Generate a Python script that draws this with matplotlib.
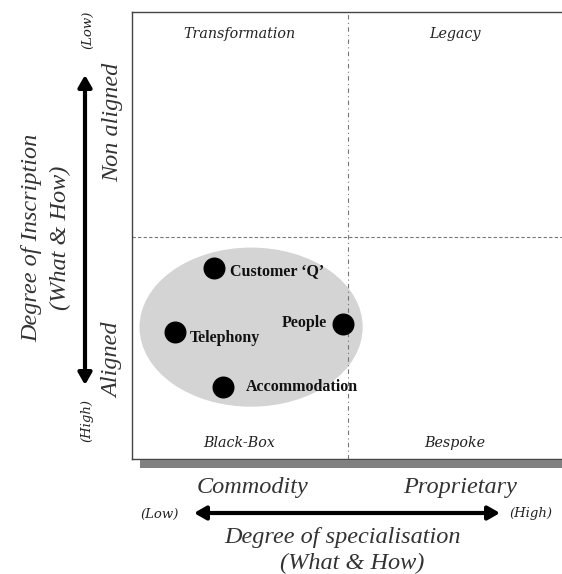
import numpy as np
import matplotlib
matplotlib.use('Agg')
import matplotlib.pyplot as plt
from matplotlib.patches import Ellipse, Rectangle, FancyArrowPatch

W, H = 562, 574

# data: position of each service on the grid (0..1 in both directions)
names = ["Customer \u2018Q\u2019", "Telephony", "People", "Accommodation"]
spec = [0.191, 0.100, 0.491, 0.212]      # degree of specialisation
inscr = [0.427, 0.284, 0.302, 0.161]     # degree of inscription (low = aligned)
label_offsets = [(16, -4), (15, -6), (-16, 1), (23, 0)]
label_align = ['left', 'left', 'right', 'left']

quadrants = ["Transformation", "Legacy", "Black-Box", "Bespoke"]
quad_pos = [(0.25, 0.95), (0.75, 0.95), (0.25, 0.035), (0.75, 0.035)]


def fx(x):
    return x / W


def fy(y):
    return 1 - y / H


fig = plt.figure(figsize=(W / 100, H / 100), dpi=100)

# gray bar under the box
fig.add_artist(Rectangle((fx(140), fy(468)), fx(562) - fx(140), fy(460) - fy(468),
                         transform=fig.transFigure, color='#808080', lw=0))

ax = fig.add_axes([fx(132), fy(459), fx(562) - fx(132), fy(12) - fy(459)])
ax.set_xlim(0, 1)
ax.set_ylim(0, 1)
ax.set_xticks([])
ax.set_yticks([])
ax.spines['right'].set_visible(False)
for s in ['left', 'top', 'bottom']:
    ax.spines[s].set_color('#444444')
    ax.spines[s].set_linewidth(1.0)

# dividers
ax.axvline(0.502, color='#777777', lw=0.8, ls=(0, (4, 3, 1, 3)))
ax.axhline(0.497, color='#777777', lw=0.8, ls=(0, (3, 2)))

# cluster ellipse
ax.add_patch(Ellipse((0.277, 0.295), 0.519, 0.356, facecolor='#d4d4d4', edgecolor='none'))

ax.scatter(spec, inscr, s=220, color='black', zorder=3)
for n, x, y, off, ha in zip(names, spec, inscr, label_offsets, label_align):
    ax.annotate(n, (x, y), xytext=off, textcoords='offset pixels', ha=ha, va='center',
                fontsize=11.5, fontweight='bold', family='Liberation Serif', color='#111111',
                zorder=4)

for q, (x, y) in zip(quadrants, quad_pos):
    ax.text(x, y, q, ha='center', va='center', fontsize=10.3, style='italic',
            family='DejaVu Serif', color='#222222')

# left axis texts
big = dict(family='Liberation Serif', style='italic', color='#333333')
fig.text(fx(32), fy(238), "Degree of Inscription", rotation=90, ha='center', va='center',
         fontsize=17.5, **big)
fig.text(fx(60), fy(238), "(What & How)", rotation=90, ha='center', va='center',
         fontsize=17.5, **big)
fig.text(fx(113), fy(122), "Non aligned", rotation=90, ha='center', va='center',
         fontsize=17.5, **big)
fig.text(fx(113), fy(360), "Aligned", rotation=90, ha='center', va='center',
         fontsize=17.5, **big)
small = dict(family='DejaVu Serif', style='italic', color='#222222', fontsize=9.5)
fig.text(fx(88), fy(30), "(Low)", rotation=90, ha='center', va='center', **small)
fig.text(fx(87), fy(420), "(High)", rotation=90, ha='center', va='center', **small)

fig.add_artist(FancyArrowPatch((fx(85), fy(385)), (fx(85), fy(75)), transform=fig.transFigure,
                               arrowstyle='<|-|>,head_length=7,head_width=4', lw=3,
                               color='black', shrinkA=0, shrinkB=0))

# bottom axis texts
fig.text(fx(253), fy(487), "Commodity", ha='center', va='center', fontsize=17.5, **big)
fig.text(fx(460), fy(487), "Proprietary", ha='center', va='center', fontsize=17.5, **big)
fig.text(fx(343), fy(537), "Degree of specialisation", ha='center', va='center',
         fontsize=17.5, **big)
fig.text(fx(352), fy(563), "(What & How)", ha='center', va='center', fontsize=17.5, **big)
fig.text(fx(160), fy(514), "(Low)", ha='center', va='center', **small)
fig.text(fx(531), fy(514), "(High)", ha='center', va='center', **small)

fig.add_artist(FancyArrowPatch((fx(194), fy(513)), (fx(500), fy(513)), transform=fig.transFigure,
                               arrowstyle='<|-|>,head_length=7,head_width=4', lw=3,
                               color='black', shrinkA=0, shrinkB=0))

fig.savefig('out.png', dpi=100, facecolor='white')
